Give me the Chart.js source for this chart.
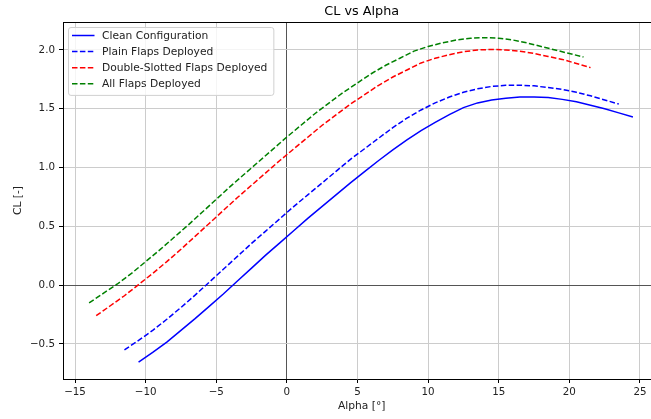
<!DOCTYPE html>
<html>
<head>
<meta charset="utf-8">
<script src="https://cdn.jsdelivr.net/npm/chart.js@4.4.1/dist/chart.umd.min.js"></script>
<style>
  body { margin: 0; background: #fff; }
  canvas { display: block; }
</style>
</head>
<body>
<canvas id="clChart" width="651" height="419"></canvas>
<script>
// 数据
const cleanAlpha = [-10.5, -9.5, -8.5, -7.5, -6.5, -5.5, -4.5, -3.5, -2.5, -1.5, -0.5, 0.5, 1.5, 2.5, 3.5, 4.5, 5.5, 6.5, 7.5, 8.5, 9.5, 10.5, 11.5, 12.5, 13.5, 14.5, 15.5, 16.5, 17.5, 18.5, 19.5, 20.5, 21.5, 22.5, 23.5, 24.5];
const cleanCL = [-0.655, -0.572, -0.485, -0.385, -0.285, -0.18, -0.075, 0.035, 0.145, 0.255, 0.36, 0.465, 0.57, 0.67, 0.77, 0.87, 0.965, 1.06, 1.15, 1.235, 1.315, 1.385, 1.45, 1.51, 1.55, 1.575, 1.59, 1.60, 1.60, 1.595, 1.58, 1.56, 1.53, 1.50, 1.465, 1.43];

const plainAlpha = [-11.5, -10.5, -9.5, -8.5, -7.5, -6.5, -5.5, -4.5, -3.5, -2.5, -1.5, -0.5, 0.5, 1.5, 2.5, 3.5, 4.5, 5.5, 6.5, 7.5, 8.5, 9.5, 10.5, 11.5, 12.5, 13.5, 14.5, 15.5, 16.5, 17.5, 18.5, 19.5, 20.5, 21.5, 22.5, 23.5];
const plainCL = [-0.55, -0.47, -0.385, -0.29, -0.19, -0.085, 0.025, 0.135, 0.245, 0.355, 0.46, 0.565, 0.67, 0.77, 0.87, 0.97, 1.07, 1.16, 1.25, 1.34, 1.42, 1.49, 1.55, 1.60, 1.64, 1.67, 1.69, 1.70, 1.70, 1.695, 1.68, 1.665, 1.64, 1.61, 1.575, 1.54];

const doubleAlpha = [-13.5, -12.5, -11.5, -10.5, -9.5, -8.5, -7.5, -6.5, -5.5, -4.5, -3.5, -2.5, -1.5, -0.5, 0.5, 1.5, 2.5, 3.5, 4.5, 5.5, 6.5, 7.5, 8.5, 9.5, 10.5, 11.5, 12.5, 13.5, 14.5, 15.5, 16.5, 17.5, 18.5, 19.5, 20.5, 21.5];
const doubleCL = [-0.26, -0.175, -0.09, 0.005, 0.10, 0.20, 0.305, 0.415, 0.525, 0.635, 0.745, 0.85, 0.955, 1.06, 1.16, 1.26, 1.36, 1.45, 1.54, 1.62, 1.70, 1.77, 1.83, 1.89, 1.93, 1.96, 1.985, 2.00, 2.005, 2.00, 1.99, 1.97, 1.945, 1.92, 1.885, 1.85];

const allAlpha = [-14, -13, -12, -11, -10, -9, -8, -7, -6, -5, -4, -3, -2, -1, 0, 1, 2, 3, 4, 5, 6, 7, 8, 9, 10, 11, 12, 13, 14, 15, 16, 17, 18, 19, 20, 21];
const allCL = [-0.15, -0.07, 0.01, 0.10, 0.20, 0.30, 0.405, 0.51, 0.62, 0.73, 0.84, 0.945, 1.05, 1.155, 1.26, 1.36, 1.46, 1.55, 1.64, 1.72, 1.80, 1.87, 1.93, 1.99, 2.03, 2.06, 2.085, 2.10, 2.105, 2.10, 2.085, 2.06, 2.03, 2.00, 1.97, 1.94];

const seriesLabels = ['Clean Configuration', 'Plain Flaps Deployed', 'Double-Slotted Flaps Deployed', 'All Flaps Deployed'];
const seriesColors = ['#0000ff', '#0000ff', '#ff0000', '#008000'];
const seriesDashed = [false, true, true, true];

const FONT = "'DejaVu Sans', sans-serif";
const DASH = [5.5, 2.4];
// 原图右侧被裁掉，完整坐标轴的中点大约在 alpha = 5.3
const AXIS_MID = 5.3;

function toPoints(xs, ys) {
    return xs.map((x, i) => ({ x: x, y: ys[i] }));
}

function fmtMinus(s) {
    return String(s).replace('-', '\u2212');
}

// 上边框 + 标题 + x 轴标题
const framePlugin = {
    id: 'frame',
    afterDatasetsDraw(chart) {
        const { ctx, chartArea } = chart;
        ctx.save();
        ctx.strokeStyle = '#000';
        ctx.lineWidth = 1;
        ctx.beginPath();
        ctx.moveTo(Math.round(chartArea.left), Math.round(chartArea.top) + 0.5);
        ctx.lineTo(Math.round(chartArea.right), Math.round(chartArea.top) + 0.5);
        ctx.stroke();

        const cx = chart.scales.x.getPixelForValue(AXIS_MID);
        ctx.textAlign = 'center';
        ctx.textBaseline = 'middle';
        ctx.fillStyle = '#000';
        ctx.font = '12.8px ' + FONT;
        ctx.fillText('CL vs Alpha', cx, 11.2);
        ctx.fillStyle = '#222';
        ctx.font = '10.7px ' + FONT;
        ctx.fillText('Alpha [°]', cx, 406.5);
        ctx.restore();
    }
};

// 图例（左上角，matplotlib 风格）
const boxLegendPlugin = {
    id: 'boxLegend',
    afterDraw(chart) {
        const { ctx, chartArea } = chart;
        const sets = chart.data.datasets;
        ctx.save();
        ctx.font = '10.7px ' + FONT;
        let maxW = 0;
        sets.forEach(ds => { maxW = Math.max(maxW, ctx.measureText(ds.label).width); });
        const bx = chartArea.left + 5.5;
        const by = chartArea.top + 5.5;
        const bw = 33.5 + maxW + 6.5;
        const rowH = 16.1;
        const bh = sets.length * rowH + 3.5;
        ctx.fillStyle = 'rgba(255,255,255,0.8)';
        ctx.strokeStyle = '#d0d0d0';
        ctx.lineWidth = 1;
        ctx.beginPath();
        ctx.roundRect(bx, by, bw, bh, 2.5);
        ctx.fill();
        ctx.stroke();
        sets.forEach((ds, i) => {
            const cy = by + 8 + i * rowH;
            ctx.strokeStyle = ds.borderColor;
            ctx.lineWidth = 1.5;
            ctx.setLineDash(ds.borderDash || []);
            ctx.beginPath();
            ctx.moveTo(bx + 3.5, cy);
            ctx.lineTo(bx + 26, cy);
            ctx.stroke();
            ctx.setLineDash([]);
            ctx.fillStyle = '#222';
            ctx.textBaseline = 'middle';
            ctx.fillText(ds.label, bx + 33.5, cy + 0.5);
        });
        ctx.restore();
    }
};

const seriesData = [
    toPoints(cleanAlpha, cleanCL),
    toPoints(plainAlpha, plainCL),
    toPoints(doubleAlpha, doubleCL),
    toPoints(allAlpha, allCL)
];

const datasets = seriesLabels.map((label, i) => ({
    label: label,
    data: seriesData[i],
    borderColor: seriesColors[i],
    backgroundColor: seriesColors[i],
    borderWidth: 1.5,
    borderDash: seriesDashed[i] ? DASH : [],
    pointRadius: 0,
    tension: 0,
    fill: false
}));

const gridColor = c => (c.tick && c.tick.value === 0) ? '#555' : '#cccccc';

const ctx = document.getElementById('clChart').getContext('2d');
new Chart(ctx, {
    type: 'line',
    data: { datasets: datasets },
    options: {
        responsive: false,
        animation: false,
        layout: { padding: { left: 0, right: 0, top: 22, bottom: 0 } },
        plugins: {
            legend: { display: false },
            tooltip: { enabled: false },
            title: { display: false }
        },
        scales: {
            x: {
                type: 'linear',
                min: -15.85,
                max: 25.78,
                grid: {
                    color: gridColor,
                    lineWidth: 1,
                    drawTicks: true,
                    tickLength: 4,
                    tickColor: '#000'
                },
                border: { color: '#000', width: 1 },
                ticks: {
                    stepSize: 5,
                    includeBounds: false,
                    autoSkip: false,
                    maxRotation: 0,
                    padding: 3,
                    color: '#222',
                    font: { family: FONT, size: 10.3 },
                    callback: v => fmtMinus(v)
                },
                title: { display: false },
                afterFit: scale => { scale.height = 40; }
            },
            y: {
                type: 'linear',
                min: -0.798,
                max: 2.238,
                grid: {
                    color: gridColor,
                    lineWidth: 1,
                    drawTicks: true,
                    tickLength: 4,
                    tickColor: '#000'
                },
                border: { color: '#000', width: 1 },
                ticks: {
                    stepSize: 0.5,
                    includeBounds: false,
                    padding: 4,
                    color: '#222',
                    font: { family: FONT, size: 10.3 },
                    callback: v => fmtMinus(v.toFixed(1))
                },
                title: {
                    display: true,
                    text: 'CL [-]',
                    color: '#222',
                    font: { family: FONT, size: 10.7 },
                    padding: { top: 12, bottom: 0 }
                },
                afterFit: scale => { scale.width = 63; }
            }
        }
    },
    plugins: [framePlugin, boxLegendPlugin]
});
</script>
</body>
</html>
